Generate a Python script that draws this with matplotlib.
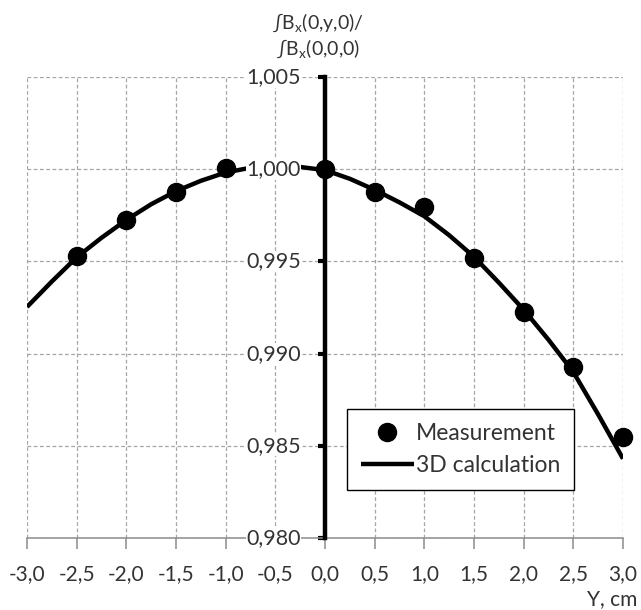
import matplotlib
matplotlib.use('Agg')
import matplotlib.pyplot as plt
import numpy as np

# ---------------------------------------------------------------------------
# DATA
# ---------------------------------------------------------------------------
meas_y_cm = [-2.5, -2.0, -1.5, -1.0, 0.0, 0.5, 1.0, 1.5, 2.0, 2.5, 3.0]
meas_ratio = [0.99530, 0.99725, 0.99879, 1.00005, 1.00000, 0.99879,
              0.99797, 0.99517, 0.99228, 0.98930, 0.98550]

calc_y_cm = [-3.0, -2.75, -2.5, -2.25, -2.0, -1.75, -1.5, -1.25, -1.0,
             -0.75, -0.5, -0.25, 0.0, 0.25, 0.5, 0.75, 1.0, 1.25, 1.5,
             1.75, 2.0, 2.25, 2.5, 2.75, 3.0]
calc_ratio = [0.99253, 0.99391, 0.99522, 0.99628, 0.99725, 0.99810,
              0.99881, 0.99937, 0.99982, 1.00008, 1.00018, 1.00012,
              0.99995, 0.99948, 0.99888, 0.99820, 0.99745, 0.99642,
              0.99525, 0.99385, 0.99238, 0.99075, 0.98900, 0.98670,
              0.98430]

x_ticks = [-3.0, -2.5, -2.0, -1.5, -1.0, -0.5, 0.0, 0.5, 1.0, 1.5, 2.0, 2.5, 3.0]
y_ticks = [0.980, 0.985, 0.990, 0.995, 1.000, 1.005]
x_labels = [f'{v:.1f}'.replace('.', ',') for v in x_ticks]
y_labels = [f'{v:.3f}'.replace('.', ',') for v in y_ticks]

# ---------------------------------------------------------------------------
# STYLE
# ---------------------------------------------------------------------------
plt.rcParams['font.family'] = ['Lato', 'DejaVu Sans']
plt.rcParams['mathtext.fontset'] = 'custom'
plt.rcParams['mathtext.rm'] = 'Lato'
plt.rcParams['mathtext.it'] = 'Lato:italic'

TXT = '#333333'
GRID = '#a6a6a6'

fig = plt.figure(figsize=(6.41, 6.10), dpi=100, facecolor='white')
ax = fig.add_axes([27 / 641, 1 - 538 / 610, 596 / 641, 461 / 610])

ax.set_xlim(-3.0, 3.0)
ax.set_ylim(0.980, 1.005)

for s in ['top', 'right']:
    ax.spines[s].set_visible(False)
ax.spines['left'].set_position(('data', 0))
ax.spines['left'].set_color('black')
ax.spines['left'].set_linewidth(3.2)
ax.spines['left'].set_zorder(3)
ax.spines['bottom'].set_color('#8c8c8c')
ax.spines['bottom'].set_linewidth(1.1)

ax.set_xticks(x_ticks)
ax.set_xticklabels(x_labels, fontsize=15, color=TXT)
ax.set_yticks(y_ticks)
ax.set_yticklabels([])

ax.tick_params(axis='x', direction='out', length=8, width=1.1,
               color='#8c8c8c', pad=11)
ax.tick_params(axis='y', direction='out', length=5, width=3, color='black')

ax.grid(True, linestyle=(0, (3, 2)), color=GRID, linewidth=0.9)
ax.set_axisbelow(True)

# y tick labels drawn as text so that they sit over the grid and the curve
for v, lbl in zip(y_ticks, y_labels):
    ax.annotate(lbl, xy=(0, v), xytext=(-17.5, 0), textcoords='offset points',
                ha='right', va='center', fontsize=15.5, color=TXT, zorder=6,
                bbox=dict(facecolor='white', edgecolor='none', pad=0.5))

# ---------------------------------------------------------------------------
# SERIES
# ---------------------------------------------------------------------------
ax.plot(calc_y_cm, calc_ratio, color='black', linewidth=3.2,
        solid_capstyle='butt', zorder=4, label='3D calculation')
ax.plot(meas_y_cm, meas_ratio, linestyle='none', marker='o', markersize=13,
        color='black', zorder=5, clip_on=False, label='Measurement')

handles, labels = ax.get_legend_handles_labels()
leg = ax.legend(handles[::-1], labels[::-1], loc='lower left',
                bbox_to_anchor=(0.537, 0.104), fontsize=16.5,
                frameon=True, fancybox=False, edgecolor='black',
                framealpha=1, handlelength=2.3, handletextpad=0.1,
                labelspacing=0.5, borderpad=0.6, borderaxespad=0)
leg.get_frame().set_linewidth(1.0)
leg.set_zorder(7)
for t in leg.get_texts():
    t.set_color(TXT)

# ---------------------------------------------------------------------------
# AXIS TITLES
# ---------------------------------------------------------------------------
fig.text(318 / 641, 1 - 23 / 610, '∫B$_{\\mathrm{x}}$(0,y,0)/',
         ha='center', va='center', fontsize=14, color=TXT)
fig.text(318 / 641, 1 - 49 / 610, '∫B$_{\\mathrm{x}}$(0,0,0)',
         ha='center', va='center', fontsize=14, color=TXT)
fig.text(637 / 641, 1 - 599 / 610, 'Y, cm', ha='right', va='center',
         fontsize=15, color=TXT)

plt.savefig('out.png', dpi=100, facecolor='white')
plt.close()
